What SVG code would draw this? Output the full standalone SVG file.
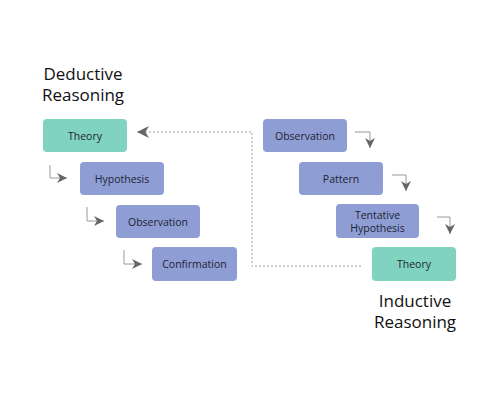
<svg xmlns="http://www.w3.org/2000/svg" width="500" height="400" viewBox="0 0 500 400">
<style>
.box rect{stroke:none}
.teal rect{fill:#80d3c0}
.blue rect{fill:#8e9ed5}
.box text{font-family:"Open Sans","Noto Sans",sans-serif;font-size:10.5px;fill:#1e2433;text-anchor:middle;dominant-baseline:central}
.title{font-family:"Open Sans","Noto Sans",sans-serif;font-size:17px;fill:#111;text-anchor:middle}
.step{fill:none;stroke:#9a9a9a;stroke-width:1;marker-end:url(#ah)}
.dash{fill:none;stroke:#a0a0a0;stroke-width:1;stroke-dasharray:2 2;marker-end:url(#ah2)}
</style>
<defs>
<marker id="ah" viewBox="0 0 10 10" refX="10" refY="5" markerWidth="10" markerHeight="10" markerUnits="userSpaceOnUse" orient="auto">
<path d="M0,0 L10,5 L0,10 L3,5 z" fill="#666"/>
</marker>
<marker id="ah2" viewBox="0 0 10 10" refX="10" refY="5" markerWidth="12" markerHeight="12" markerUnits="userSpaceOnUse" orient="auto">
<path d="M0,0 L10,5 L0,10 L3,5 z" fill="#666"/>
</marker>
</defs>
<text class="title" x="83" y="80">Deductive</text>
<text class="title" x="83" y="101">Reasoning</text>
<text class="title" x="415" y="307">Inductive</text>
<text class="title" x="415" y="328">Reasoning</text>
<g id="connectors">
<path class="step" d="M50,165 V178 H67"/>
<path class="step" d="M87,207 V221 H104"/>
<path class="step" d="M124,250 V264 H142"/>
<path class="step" d="M355,132 H370 V148"/>
<path class="step" d="M392,175 H406 V191"/>
<path class="step" d="M437,217 H450 V234"/>
<path class="dash" d="M361,266 H252 V132 H137"/>
</g>
<g id="d-theory" class="box teal"><rect x="43" y="119" width="84" height="33" rx="4"/><text x="85" y="135.5">Theory</text></g>
<g id="d-hypothesis" class="box blue"><rect x="80" y="162" width="84" height="33" rx="4"/><text x="122" y="178.5">Hypothesis</text></g>
<g id="d-observation" class="box blue"><rect x="116" y="205" width="84" height="33" rx="4"/><text x="158" y="221.5">Observation</text></g>
<g id="d-confirmation" class="box blue"><rect x="152" y="247" width="85" height="34" rx="4"/><text x="194.5" y="264">Confirmation</text></g>
<g id="i-observation" class="box blue"><rect x="263" y="119" width="84" height="33" rx="4"/><text x="305" y="135.5">Observation</text></g>
<g id="i-pattern" class="box blue"><rect x="299" y="162" width="84" height="33" rx="4"/><text x="341" y="178.5">Pattern</text></g>
<g id="i-tentative" class="box blue"><rect x="336" y="204" width="83" height="34" rx="4"/><text x="377.5" y="214.5">Tentative</text><text x="377.5" y="227.5">Hypothesis</text></g>
<g id="i-theory" class="box teal"><rect x="372" y="247" width="84" height="34" rx="4"/><text x="414" y="264">Theory</text></g>
</svg>
